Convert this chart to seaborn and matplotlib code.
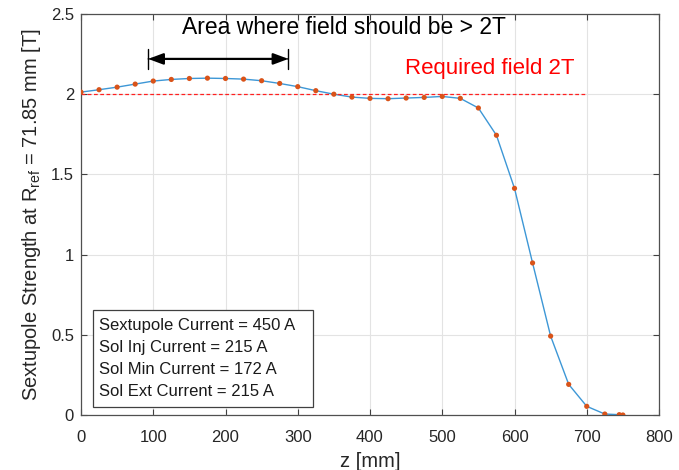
import numpy as np
import pandas as pd
import seaborn as sns
import matplotlib.pyplot as plt
from matplotlib.patches import Rectangle

# field along z
z_mm = [0, 25, 50, 75, 100, 125, 150, 175, 200, 225, 250, 275, 300, 325, 350,
        375, 400, 425, 450, 475, 500, 525, 550, 575, 600, 625, 650, 675, 700,
        725, 745, 750]
b_T = [2.013, 2.028, 2.044, 2.063, 2.082, 2.092, 2.098, 2.100, 2.098, 2.094,
       2.084, 2.067, 2.047, 2.022, 2.000, 1.982, 1.974, 1.972, 1.976, 1.980,
       1.986, 1.974, 1.914, 1.744, 1.413, 0.948, 0.492, 0.191, 0.054, 0.006,
       0.002, 0.0]

req_field = 2.0
req_span = [0, 700]
area_span = [93, 287]
info_lines = ["Sextupole Current = 450 A",
              "Sol Inj Current = 215 A",
              "Sol Min Current = 172 A",
              "Sol Ext Current = 215 A"]
x_ticks = list(range(0, 801, 100))
y_ticks = [0, 0.5, 1, 1.5, 2, 2.5]
y_tick_labels = ["0", "0.5", "1", "1.5", "2", "2.5"]

df = pd.DataFrame({"z": z_mm, "B": b_T})

sns.set_theme(style="whitegrid")
plt.rcParams["font.family"] = ["Liberation Sans", "DejaVu Sans"]
plt.rcParams["mathtext.fontset"] = "custom"
plt.rcParams["mathtext.rm"] = "Liberation Sans"
plt.rcParams["mathtext.default"] = "regular"

fig = plt.figure(figsize=(6.79, 4.70), dpi=100)
ax = fig.add_axes([81 / 679, 1 - 415 / 470, 578 / 679, 401 / 470])

sns.lineplot(data=df, x="z", y="B", ax=ax, color="#3d97d6", linewidth=1.0)
sns.scatterplot(data=df, x="z", y="B", ax=ax, color="#d95319", s=14,
                edgecolor="none", zorder=3)

ax.plot(req_span, [req_field, req_field], color="#ff2020", linestyle=(0, (3, 2)),
        linewidth=0.9, zorder=2)
ax.text(448, 2.163, "Required field 2T", color="red", fontsize=16, va="center")

# double arrow with end bars
ax.annotate("", xy=(area_span[0], 2.22), xytext=(area_span[1], 2.22),
            arrowprops=dict(arrowstyle="|-|,widthA=0.6,widthB=0.6", color="black", lw=1.0,
                            shrinkA=0, shrinkB=0))
ax.annotate("", xy=(area_span[0], 2.22), xytext=(area_span[1], 2.22),
            arrowprops=dict(arrowstyle="<|-|>,head_length=0.75,head_width=0.28",
                            color="black", lw=1.6, shrinkA=0, shrinkB=0))
ax.text(139.5, 2.415, "Area where field should be > 2T", fontsize=16.5,
        va="center", color="black")

# info box
ax.add_patch(Rectangle((0.0202, 0.0192), 0.3817, 0.2426, transform=ax.transAxes,
                       fc="white", ec="#404040", lw=0.9, zorder=4))
ax.text(25.3, 0.351, "\n".join(info_lines), fontsize=12, va="center", ha="left",
        color="#1a1a1a", linespacing=1.6, zorder=5)

ax.set_xlim(0, 800)
ax.set_ylim(0, 2.5)
ax.set_xticks(x_ticks)
ax.set_yticks(y_ticks)
ax.set_yticklabels(y_tick_labels)
ax.set_xlabel("z [mm]", fontsize=14.5, color="#262626", labelpad=5)
ax.set_ylabel("Sextupole Strength at R$_{ref}$ = 71.85 mm [T]", fontsize=14.5,
              color="#262626", labelpad=6)

ax.grid(True, color="#e3e3e3", linewidth=0.8)
ax.tick_params(direction="in", length=4, width=0.8, colors="#404040",
               labelsize=12, labelcolor="#262626", top=True, right=True,
               bottom=True, left=True, pad=5)
ax.tick_params(axis="x", pad=11)
for s in ax.spines.values():
    s.set_visible(True)
    s.set_color("#505050")
    s.set_linewidth(0.9)

fig.savefig("out.png", dpi=100)
